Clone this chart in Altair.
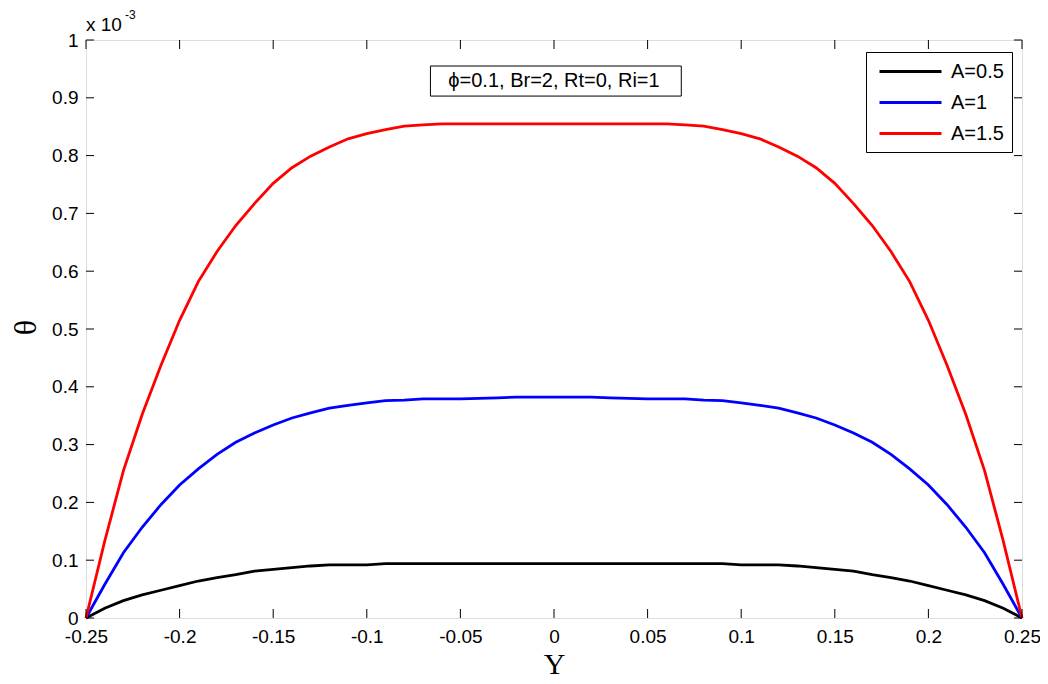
import altair as alt
import pandas as pd

# ---------------- data ----------------
Y = [-0.25, -0.24, -0.23, -0.22, -0.21, -0.20, -0.19, -0.18, -0.17, -0.16,
     -0.15, -0.14, -0.13, -0.12, -0.11, -0.10, -0.09, -0.08, -0.07, -0.06,
     -0.05, -0.04, -0.03, -0.02, -0.01, 0.00, 0.01, 0.02, 0.03, 0.04,
     0.05, 0.06, 0.07, 0.08, 0.09, 0.10, 0.11, 0.12, 0.13, 0.14,
     0.15, 0.16, 0.17, 0.18, 0.19, 0.20, 0.21, 0.22, 0.23, 0.24, 0.25]

# theta values in units of 1e-3
theta_A05 = [0.000, 0.017, 0.030, 0.040, 0.048, 0.056, 0.064, 0.070, 0.075, 0.081,
             0.084, 0.087, 0.090, 0.092, 0.092, 0.092, 0.094, 0.094, 0.094, 0.094,
             0.094, 0.094, 0.094, 0.094, 0.094, 0.094, 0.094, 0.094, 0.094, 0.094,
             0.094, 0.094, 0.094, 0.094, 0.094, 0.092, 0.092, 0.092, 0.090, 0.087,
             0.084, 0.081, 0.075, 0.070, 0.064, 0.056, 0.048, 0.040, 0.030, 0.017, 0.000]

theta_A1 = [0.000, 0.058, 0.113, 0.157, 0.196, 0.230, 0.258, 0.283, 0.304, 0.320,
            0.334, 0.346, 0.355, 0.363, 0.368, 0.372, 0.376, 0.377, 0.379, 0.379,
            0.379, 0.380, 0.381, 0.382, 0.382, 0.382, 0.382, 0.382, 0.381, 0.380,
            0.379, 0.379, 0.379, 0.377, 0.376, 0.372, 0.368, 0.363, 0.355, 0.346,
            0.334, 0.320, 0.304, 0.283, 0.258, 0.230, 0.196, 0.157, 0.113, 0.058, 0.000]

theta_A15 = [0.000, 0.133, 0.255, 0.352, 0.437, 0.515, 0.582, 0.634, 0.679, 0.717,
             0.752, 0.779, 0.799, 0.815, 0.829, 0.838, 0.845, 0.851, 0.853, 0.855,
             0.855, 0.855, 0.855, 0.855, 0.855, 0.855, 0.855, 0.855, 0.855, 0.855,
             0.855, 0.855, 0.853, 0.851, 0.845, 0.838, 0.829, 0.815, 0.799, 0.779,
             0.752, 0.717, 0.679, 0.634, 0.582, 0.515, 0.437, 0.352, 0.255, 0.133, 0.000]

series_names = ["A=0.5", "A=1", "A=1.5"]
series_colors = ["#000000", "#0000ff", "#ff0000"]

x_ticks = [-0.25, -0.2, -0.15, -0.1, -0.05, 0, 0.05, 0.1, 0.15, 0.2, 0.25]
y_ticks = [0, 0.1, 0.2, 0.3, 0.4, 0.5, 0.6, 0.7, 0.8, 0.9, 1.0]

note_text = ["ϕ=0.1, Br=2, Rt=0, Ri=1"]
note_box_x = [-0.066, 0.068]
note_box_y = [0.903, 0.955]
note_pos = [0.0, 0.929]

# ---------------- tables ----------------
rows = []
for name, vals in zip(series_names, [theta_A05, theta_A1, theta_A15]):
    for yv, tv in zip(Y, vals):
        rows.append({"Y": yv, "theta": tv, "A": name})
df = pd.DataFrame(rows)

W, H = 936, 578
SANS = "Liberation Sans"
SERIF = "Liberation Serif"

x_scale = alt.Scale(domain=[-0.25, 0.25], nice=False, zero=False)
y_scale = alt.Scale(domain=[0, 1], nice=False, zero=False)

x_axis = alt.Axis(values=x_ticks, labelExpr="toString(round(datum.value*100)/100)",
                  ticks=False, domain=False, grid=False, labelFlush=False,
                  labelOverlap=False,
                  labelFont=SANS, labelFontSize=19, labelColor="black", labelPadding=9,
                  title="Y", titleFont=SERIF, titleFontSize=30, titleFontWeight="normal",
                  titleColor="black", titleBaseline="alphabetic", titleY=55)
y_axis = alt.Axis(values=y_ticks, labelExpr="toString(round(datum.value*10)/10)",
                  ticks=False, domain=False, grid=False, labelFlush=False,
                  labelOverlap=False,
                  labelFont=SANS, labelFontSize=19, labelColor="black", labelPadding=8,
                  title="θ", titleFont=SERIF, titleFontSize=32, titleFontWeight="normal",
                  titleColor="black", titleAngle=270, titleBaseline="alphabetic",
                  titleX=-51, titleY=287, titleAlign="center")

X = lambda f: alt.X(f, type="quantitative", scale=x_scale, axis=x_axis)
YY = lambda f: alt.Y(f, type="quantitative", scale=y_scale, axis=y_axis)

lines = alt.Chart(df).mark_line(strokeWidth=2.8).encode(
    x=X("Y"),
    y=YY("theta"),
    color=alt.Color("A:N", scale=alt.Scale(domain=series_names, range=series_colors),
                    legend=alt.Legend(orient="none", legendX=780, legendY=12,
                                      title=None, symbolType="M-0.6,0H5.6",
                                      symbolSize=400, symbolStrokeWidth=3,
                                      labelFont=SANS, labelFontSize=20,
                                      labelColor="black", labelOffset=54,
                                      rowPadding=9, padding=8,
                                      strokeColor="black", fillColor="white",
                                      labelLimit=300)),
)

xt_df = pd.DataFrame({"Y": x_ticks})
yt_df = pd.DataFrame({"theta": y_ticks})

tick_bottom = alt.Chart(xt_df).mark_rule(color="black", strokeWidth=1).encode(
    x=X("Y"), y=alt.value(H), y2=alt.value(H - 9))
tick_top = alt.Chart(xt_df).mark_rule(color="black", strokeWidth=1).encode(
    x=X("Y"), y=alt.value(0), y2=alt.value(9))
tick_left = alt.Chart(yt_df).mark_rule(color="black", strokeWidth=1).encode(
    y=YY("theta"), x=alt.value(0), x2=alt.value(8))
tick_right = alt.Chart(yt_df).mark_rule(color="black", strokeWidth=1).encode(
    y=YY("theta"), x=alt.value(W), x2=alt.value(W - 8))

box_df = pd.DataFrame({"x1": [note_box_x[0]], "x2": [note_box_x[1]],
                       "y1": [note_box_y[0]], "y2": [note_box_y[1]]})
note_box = alt.Chart(box_df).mark_rect(fill="white", stroke="black", strokeWidth=1).encode(
    x=X("x1"), x2="x2", y=YY("y1"), y2="y2")

note_df = pd.DataFrame({"Y": [note_pos[0]], "theta": [note_pos[1]], "t": note_text})
note = alt.Chart(note_df).mark_text(font=SANS, fontSize=20, color="black",
                                    align="center", baseline="middle").encode(
    x=X("Y"), y=YY("theta"), text="t:N")

exp_df = pd.DataFrame({"a": ["x 10"], "b": ["-3"]})
exp_main = alt.Chart(exp_df).mark_text(font=SANS, fontSize=19, color="black",
                                       align="left", baseline="alphabetic").encode(
    x=alt.value(0), y=alt.value(-9), text="a:N")
exp_sup = alt.Chart(exp_df).mark_text(font=SANS, fontSize=12, color="black",
                                      align="left", baseline="alphabetic").encode(
    x=alt.value(39), y=alt.value(-21), text="b:N")

chart = alt.layer(
    lines, tick_bottom, tick_top, tick_left, tick_right, note_box, note, exp_main, exp_sup
).properties(
    width=W, height=H,
    autosize=alt.AutoSizeParams(type="none"),
    padding={"left": 78, "top": 32, "right": 18, "bottom": 58},
).configure_view(stroke="black", strokeWidth=1).configure(background="white")

chart.save("out.html", embed_options={"renderer": "svg", "actions": False})
